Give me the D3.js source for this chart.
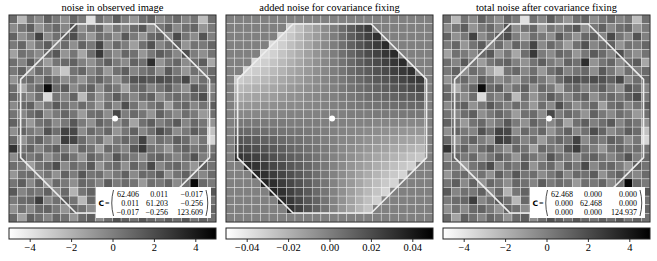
<!DOCTYPE html>
<html><head><meta charset="utf-8">
<script src="https://cdn.jsdelivr.net/npm/d3@7"></script>
<style>
body{margin:0;background:#fff}svg{display:block}
text{font-family:"Liberation Serif","DejaVu Serif","Times New Roman",serif}
text.sans{font-family:"DejaVu Sans","Liberation Sans",sans-serif}
</style>
</head><body><svg id="c" width="657" height="261"></svg>
<script>
// ---------------- data ----------------
const titles = ["noise in observed image", "added noise for covariance fixing", "total noise after covariance fixing"];

const observedNoise = [
[0.8,-2.2,0.5,-0.4,1.2,0.3,-0.6,1.0,0.2,-3.8,0.6,-0.3,1.4,0.1,-0.9,0.7,1.1,-0.5,0.3,0.9,-0.2,0.4,-2.4,0.6],
[-0.5,0.4,1.3,-0.8,0.2,0.9,-0.3,1.8,-0.6,0.5,1.0,-1.1,0.4,-0.2,0.8,1.6,-0.7,0.3,1.2,-0.4,0.6,1.0,-0.9,0.2],
[1.1,-0.7,0.3,2.4,-0.5,0.6,1.2,2.0,0.1,-1.0,0.7,0.3,-0.6,1.5,0.2,-0.8,0.9,1.3,-0.2,2.1,0.4,-0.5,1.7,0.0],
[0.2,1.0,-0.9,0.5,1.4,-0.2,0.8,-0.6,1.1,0.3,2.3,-0.4,0.9,0.1,-1.2,0.6,1.8,-0.3,0.7,1.2,-0.8,0.5,0.2,1.0],
[-1.3,0.6,0.2,-0.4,0.9,1.6,-0.8,0.4,-1.5,0.7,2.8,0.2,-0.5,1.0,0.6,-0.9,0.3,1.4,0.8,-0.3,1.9,0.1,-0.6,0.5],
[0.7,-0.2,1.5,0.3,-1.1,0.4,0.9,1.2,0.0,-0.7,0.5,1.3,0.2,-0.4,1.1,0.6,3.2,-0.8,0.4,1.0,-0.5,0.8,1.4,-1.6],
[0.3,1.2,-0.6,0.8,0.2,-1.4,-2.8,0.5,1.0,-0.3,0.7,-1.0,0.6,1.3,-0.2,0.4,0.9,-0.6,1.5,0.3,-0.9,0.6,0.1,0.8],
[-0.8,0.5,0.9,-0.3,1.3,0.6,-0.5,0.2,-0.9,0.4,1.1,0.3,-0.7,0.8,1.7,1.9,1.6,2.0,1.8,1.2,2.2,-0.4,0.7,1.0],
[0.6,-1.7,0.2,1.0,4.6,0.8,1.4,-0.4,0.5,1.2,-0.6,0.9,0.3,-1.3,0.6,1.0,-0.2,0.4,1.3,0.1,-0.7,1.6,0.9,-0.3],
[1.0,0.3,-0.5,0.7,-3.6,0.4,-0.2,1.1,-2.3,0.6,-0.8,0.2,1.4,0.5,-0.3,0.8,1.2,-0.6,0.4,0.9,0.3,1.1,2.0,0.2],
[-0.4,0.9,1.2,-0.7,0.3,1.5,0.6,-0.1,0.8,0.2,-1.0,0.7,-0.4,1.9,0.5,-0.6,0.3,0.9,-1.2,0.6,1.0,-0.3,0.5,1.3],
[0.5,-0.3,0.7,1.3,-0.6,0.2,1.0,0.4,-1.1,0.6,0.8,-0.5,2.2,0.1,0.9,0.4,-0.8,1.2,0.3,-0.4,0.7,0.2,-1.0,0.6],
[1.2,0.4,-1.0,0.5,0.9,-0.4,0.3,1.6,0.2,-0.7,1.1,0.5,-0.3,0.8,-1.4,0.6,1.3,0.0,0.7,1.5,-0.2,0.9,0.4,-0.8],
[-0.6,1.1,0.3,-0.2,1.8,0.7,2.4,2.2,-0.5,0.9,0.2,1.0,-0.8,0.4,1.2,-0.3,0.6,2.0,1.1,-0.5,0.3,1.4,0.8,-2.6],
[0.9,-0.8,0.5,1.2,0.1,-0.6,2.6,2.3,0.8,-0.2,0.6,-1.1,0.3,1.0,0.5,2.4,-0.4,0.7,0.2,1.3,0.8,-0.6,0.4,-3.4],
[3.0,0.4,1.1,-0.3,0.8,1.4,0.2,-0.7,1.0,0.5,-1.2,0.9,0.4,-0.2,1.6,2.7,0.5,0.1,-0.9,0.6,1.1,0.3,0.7,0.4],
[-0.5,1.0,0.2,0.9,-0.6,0.3,1.3,0.5,-0.9,1.1,0.4,-0.3,1.7,0.6,0.2,-0.5,0.8,1.2,0.4,-0.2,0.6,1.8,0.1,0.9],
[0.7,0.2,-1.2,0.4,1.0,2.0,-0.4,0.8,0.3,1.5,-0.8,0.5,0.9,-0.6,1.1,0.3,2.1,-0.3,0.7,1.0,0.2,-0.9,1.3,0.5],
[-0.9,0.6,0.8,-0.2,0.5,-0.7,1.2,0.1,1.6,0.4,0.7,-0.5,0.3,1.2,-0.4,0.9,0.6,1.4,-0.7,0.5,1.2,0.4,-0.3,0.8],
[0.4,1.3,-0.4,1.1,-0.8,0.9,0.3,-0.6,1.0,0.6,-0.2,1.4,0.2,0.8,0.5,-1.0,0.7,0.3,1.1,-0.4,0.6,4.7,0.9,0.2],
[1.5,-0.2,0.6,0.3,1.2,-0.5,0.9,-2.0,0.4,1.1,0.7,0.0,1.3,-0.7,0.6,1.0,-0.3,0.8,0.5,1.2,0.3,0.9,-0.5,1.6],
[0.2,0.8,1.0,2.6,-0.3,0.6,1.4,0.5,-2.2,0.9,0.3,1.2,-0.4,0.7,1.0,0.2,0.8,-0.6,1.3,0.4,0.9,0.2,1.0,0.5],
[-0.7,0.5,-0.4,0.9,1.1,0.3,-0.8,1.0,0.6,-0.5,1.3,0.4,0.9,1.5,0.3,1.2,0.7,1.4,0.2,1.1,0.6,1.3,0.4,1.0],
[0.9,-1.4,1.2,0.6,-0.3,1.0,0.5,-0.9,0.8,1.3,-0.6,0.7,1.8,1.2,0.5,1.6,0.9,0.4,1.2,0.7,1.5,0.3,1.1,0.6]
];

const addedNoise = [
[0,0,0,0,0,0,0,0,0,0,0,0,0,0,0,0,0,0,0,0,0,0,0,0],
[0,0,0,0,0,0,0,-0.031,-0.025,-0.018,-0.012,-0.005,0.001,0.008,0.014,0.021,0.027,0,0,0,0,0,0,0],
[0,0,0,0,0,0,-0.034,-0.028,-0.022,-0.016,-0.011,-0.005,0.001,0.007,0.013,0.019,0.025,0.031,0,0,0,0,0,0],
[0,0,0,0,0,-0.036,-0.031,-0.025,-0.020,-0.015,-0.009,-0.004,0.001,0.006,0.012,0.017,0.022,0.027,0.033,0,0,0,0,0],
[0,0,0,0,-0.036,-0.032,-0.027,-0.022,-0.018,-0.013,-0.008,-0.004,0.001,0.006,0.010,0.015,0.020,0.024,0.029,0.033,0,0,0,0],
[0,0,0,-0.035,-0.031,-0.027,-0.023,-0.019,-0.015,-0.011,-0.007,-0.003,0.001,0.005,0.009,0.013,0.017,0.021,0.025,0.029,0.033,0,0,0],
[0,0,-0.033,-0.030,-0.027,-0.023,-0.020,-0.016,-0.013,-0.010,-0.006,-0.003,0.001,0.004,0.008,0.011,0.014,0.018,0.021,0.025,0.028,0.031,0,0],
[0,-0.030,-0.027,-0.025,-0.022,-0.019,-0.016,-0.013,-0.011,-0.008,-0.005,-0.002,0.001,0.003,0.006,0.009,0.012,0.015,0.017,0.020,0.023,0.026,0.028,0],
[0,-0.023,-0.021,-0.019,-0.017,-0.015,-0.013,-0.010,-0.008,-0.006,-0.004,-0.002,0.000,0.003,0.005,0.007,0.009,0.011,0.013,0.016,0.018,0.020,0.022,0],
[0,-0.017,-0.015,-0.014,-0.012,-0.011,-0.009,-0.007,-0.006,-0.004,-0.003,-0.001,0.000,0.002,0.003,0.005,0.007,0.008,0.010,0.011,0.013,0.014,0.016,0],
[0,-0.010,-0.009,-0.008,-0.007,-0.006,-0.005,-0.004,-0.004,-0.003,-0.002,-0.001,0.000,0.001,0.002,0.003,0.004,0.005,0.006,0.007,0.008,0.009,0.009,0],
[0,-0.003,-0.003,-0.003,-0.002,-0.002,-0.002,-0.001,-0.001,-0.001,-0.001,0.000,0.000,0.000,0.001,0.001,0.001,0.002,0.002,0.002,0.003,0.003,0.003,0],
[0,0.003,0.003,0.003,0.002,0.002,0.002,0.001,0.001,0.001,0.001,0.000,0.000,0.000,-0.001,-0.001,-0.001,-0.002,-0.002,-0.002,-0.003,-0.003,-0.003,0],
[0,0.010,0.009,0.008,0.007,0.006,0.005,0.004,0.004,0.003,0.002,0.001,0.000,-0.001,-0.002,-0.003,-0.004,-0.005,-0.006,-0.007,-0.008,-0.009,-0.009,0],
[0,0.017,0.015,0.014,0.012,0.011,0.009,0.007,0.006,0.004,0.003,0.001,0.000,-0.002,-0.003,-0.005,-0.007,-0.008,-0.010,-0.011,-0.013,-0.014,-0.016,0],
[0,0.023,0.021,0.019,0.017,0.015,0.013,0.010,0.008,0.006,0.004,0.002,0.000,-0.003,-0.005,-0.007,-0.009,-0.011,-0.013,-0.016,-0.018,-0.020,-0.022,0],
[0,0.030,0.027,0.025,0.022,0.019,0.016,0.013,0.011,0.008,0.005,0.002,-0.001,-0.003,-0.006,-0.009,-0.012,-0.015,-0.017,-0.020,-0.023,-0.026,-0.028,0],
[0,0,0.033,0.030,0.027,0.023,0.020,0.016,0.013,0.010,0.006,0.003,-0.001,-0.004,-0.008,-0.011,-0.014,-0.018,-0.021,-0.025,-0.028,-0.031,0,0],
[0,0,0,0.035,0.031,0.027,0.023,0.019,0.015,0.011,0.007,0.003,-0.001,-0.005,-0.009,-0.013,-0.017,-0.021,-0.025,-0.029,-0.033,0,0,0],
[0,0,0,0,0.036,0.032,0.027,0.022,0.018,0.013,0.008,0.004,-0.001,-0.006,-0.010,-0.015,-0.020,-0.024,-0.029,-0.033,0,0,0,0],
[0,0,0,0,0,0.036,0.031,0.025,0.020,0.015,0.009,0.004,-0.001,-0.006,-0.012,-0.017,-0.022,-0.027,-0.033,0,0,0,0,0],
[0,0,0,0,0,0,0.034,0.028,0.022,0.016,0.011,0.005,-0.001,-0.007,-0.013,-0.019,-0.025,-0.031,0,0,0,0,0,0],
[0,0,0,0,0,0,0,0.031,0.025,0.018,0.012,0.005,-0.001,-0.008,-0.014,-0.021,-0.027,0,0,0,0,0,0,0],
[0,0,0,0,0,0,0,0,0,0,0,0,0,0,0,0,0,0,0,0,0,0,0,0]
];

// total noise = observed + added (pixel by pixel)
const totalNoise = observedNoise.map((row, r) => row.map((v, c) => v + addedNoise[r][c]));

const noiseRange = [-5, 5];
const addedRange = [-0.05, 0.05];
const noiseTicks = [-4, -2, 0, 2, 4];
const noiseTickLabels = ["\u22124", "\u22122", "0", "2", "4"];
const addedTicks = [-0.04, -0.02, 0, 0.02, 0.04];
const addedTickLabels = ["\u22120.04", "\u22120.02", "0.00", "0.02", "0.04"];

const covObserved = [
  ["62.406", "0.011", "\u22120.017"],
  ["0.011", "61.203", "\u22120.256"],
  ["\u22120.017", "\u22120.256", "123.609"]
];
const covFixed = [
  ["62.468", "0.000", "0.000"],
  ["0.000", "62.468", "0.000"],
  ["0.000", "0.000", "124.937"]
];

// ---------------- layout ----------------
const N = 24;
const panelX = [9, 226, 443], panelY = 15, panelSize = 207;
const cbY = 228, cbH = 11;
const apCenter = [12.3, 12.0], apApothem = 10.95;

const svg = d3.select("#c");
const defs = svg.append("defs");
const grad = defs.append("linearGradient").attr("id", "grayr").attr("x1", "0%").attr("x2", "100%").attr("y1", "0%").attr("y2", "0%");
grad.append("stop").attr("offset", "0%").attr("stop-color", "#ffffff");
grad.append("stop").attr("offset", "100%").attr("stop-color", "#000000");

const panels = [
  {title: titles[0], data: observedNoise, domain: noiseRange, ticks: noiseTicks, labels: noiseTickLabels, cov: covObserved},
  {title: titles[1], data: addedNoise, domain: addedRange, ticks: addedTicks, labels: addedTickLabels, cov: null},
  {title: titles[2], data: totalNoise, domain: noiseRange, ticks: noiseTicks, labels: noiseTickLabels, cov: covFixed}
];

panels.forEach((p, i) => {
  const x0 = panelX[i];
  const g = svg.append("g");
  const xs = d3.scaleBand().domain(d3.range(N)).range([x0, x0 + panelSize]);
  const ys = d3.scaleBand().domain(d3.range(N)).range([panelY, panelY + panelSize]);
  const color = d3.scaleLinear().domain(p.domain).range(["#ffffff", "#000000"]).clamp(true);
  const cells = p.data.flatMap((row, r) => row.map((v, c) => ({r, c, v})));

  g.selectAll("rect.cell").data(cells).join("rect").attr("class", "cell")
    .attr("x", d => xs(d.c)).attr("y", d => ys(d.r))
    .attr("width", xs.bandwidth()).attr("height", ys.bandwidth())
    .attr("fill", d => color(d.v))
    .attr("stroke", "#ffffff").attr("stroke-opacity", 0.5).attr("stroke-width", 0.6);

  // aperture octagon and centre
  const ux = d3.scaleLinear().domain([0, N]).range([x0, x0 + panelSize]);
  const uy = d3.scaleLinear().domain([0, N]).range([panelY, panelY + panelSize]);
  const a = apApothem, t = apApothem * Math.tan(Math.PI / 8);
  const [cx, cy] = apCenter;
  const pts = [[-t,-a],[t,-a],[a,-t],[a,t],[t,a],[-t,a],[-a,t],[-a,-t]]
    .map(([dx, dy]) => [ux(cx + dx), uy(cy + dy)]);
  g.append("polygon").attr("points", pts.map(q => q.join(",")).join(" "))
    .attr("fill", "none").attr("stroke", "#eeeeee").attr("stroke-width", 1.6).attr("stroke-linejoin", "miter");
  g.append("circle").attr("cx", ux(cx)).attr("cy", uy(cy)).attr("r", 3).attr("fill", "#ffffff");

  // covariance box
  if (p.cov) {
    const bx = x0 + 87, by = panelY + 172;
    const box = g.append("g");
    box.append("rect").attr("x", bx).attr("y", by).attr("width", 115).attr("height", 31).attr("fill", "#ffffff");
    const rowY = [by + 10, by + 19, by + 28];
    const colR = [x0 + 130, x0 + 159, x0 + 194];
    box.append("text").attr("class", "sans").attr("x", x0 + 89.5).attr("y", rowY[1])
      .attr("font-weight", "bold").attr("font-size", 7.5).text("C");
    box.append("text").attr("x", x0 + 96).attr("y", rowY[1]).attr("font-size", 8).text("=");
    const pTop = by + 3, pBot = by + 29, pMid = (pTop + pBot) / 2;
    const lx = x0 + 102.5, rx = x0 + 199;
    box.append("path").attr("d", `M${lx + 2},${pTop} Q${lx - 1.5},${pMid} ${lx + 2},${pBot}`)
      .attr("fill", "none").attr("stroke", "#000").attr("stroke-width", 0.7);
    box.append("path").attr("d", `M${rx - 2},${pTop} Q${rx + 1.5},${pMid} ${rx - 2},${pBot}`)
      .attr("fill", "none").attr("stroke", "#000").attr("stroke-width", 0.7);
    p.cov.forEach((row, r) => row.forEach((s, c) => {
      box.append("text").attr("x", colR[c]).attr("y", rowY[r]).attr("text-anchor", "end")
        .attr("font-size", 8).text(s);
    }));
  }

  // frame
  g.append("rect").attr("x", x0).attr("y", panelY).attr("width", panelSize).attr("height", panelSize)
    .attr("fill", "none").attr("stroke", "#222").attr("stroke-width", 1);

  // title
  svg.append("text").attr("x", x0 + panelSize / 2).attr("y", 10.5).attr("text-anchor", "middle")
    .attr("font-size", 10.5).attr("fill", "#000").text(p.title);

  // colorbar
  const cs = d3.scaleLinear().domain(p.domain).range([x0, x0 + panelSize]);
  svg.append("rect").attr("x", x0).attr("y", cbY).attr("width", panelSize).attr("height", cbH)
    .attr("fill", "url(#grayr)").attr("stroke", "#222").attr("stroke-width", 1);
  const ax = svg.append("g").attr("transform", `translate(0,${cbY + cbH})`)
    .call(d3.axisBottom(cs).tickValues(p.ticks).tickSize(3).tickPadding(2)
      .tickFormat((d, k) => p.labels[k]));
  ax.attr("font-family", null);
  ax.select(".domain").remove();
  ax.selectAll("line").attr("stroke", "#000").attr("stroke-width", 0.8);
  ax.selectAll("text").attr("font-size", 10.5).attr("fill", "#000");
});
</script>
</body></html>
